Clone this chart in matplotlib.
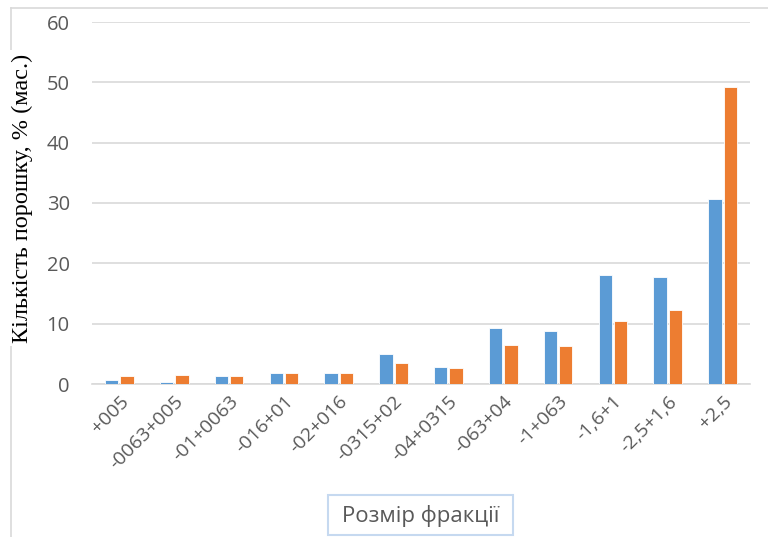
import matplotlib
matplotlib.use("Agg")
import matplotlib.pyplot as plt
from matplotlib.patches import Rectangle
from matplotlib.lines import Line2D
import numpy as np

categories = ["+005", "-0063+005", "-01+0063", "-016+01", "-02+016", "-0315+02",
              "-04+0315", "-063+04", "-1+063", "-1,6+1", "-2,5+1,6", "+2,5"]
series_blue = [0.7, 0.3, 1.3, 1.8, 1.8, 5.0, 2.8, 9.3, 8.8, 18.0, 17.7, 30.7]
series_orange = [1.3, 1.5, 1.3, 1.8, 1.8, 3.5, 2.6, 6.5, 6.3, 10.5, 12.2, 49.2]
y_ticks = [0, 10, 20, 30, 40, 50, 60]

W, H = 768, 537
fig = plt.figure(figsize=(W / 100, H / 100), dpi=100)
fig.patch.set_facecolor("white")

# chart-area frame (top and left edges)
fig.add_artist(Line2D([11 / W, 1.0], [1 - 8 / H, 1 - 8 / H], color="#d9d9d9", lw=1.2))
fig.add_artist(Line2D([11 / W, 11 / W], [0.0, 1 - 8 / H], color="#d9d9d9", lw=1.2))

ax = fig.add_axes([92 / W, 1 - 384 / H, (750 - 92) / W, (384 - 22) / H])
x = np.arange(len(categories))
bw = 0.245
gap = 0.035
ax.bar(x - (bw + gap) / 2, series_blue, width=bw, color="#5b9bd5",
       edgecolor="white", linewidth=0.6, zorder=3)
ax.bar(x + (bw + gap) / 2, series_orange, width=bw, color="#ed7d31",
       edgecolor="white", linewidth=0.6, zorder=3)

ax.set_xlim(-0.5, len(categories) - 0.5)
ax.set_ylim(0, 60)
ax.set_yticks(y_ticks)
ax.set_yticklabels([str(v) for v in y_ticks], fontsize=14.5, color="#595959",
                   family="Open Sans")
ax.yaxis.grid(True, color="#d9d9d9", lw=1.2, zorder=0)
ax.set_axisbelow(True)
for s in ["top", "right", "left"]:
    ax.spines[s].set_visible(False)
ax.spines["bottom"].set_color("#d9d9d9")
ax.spines["bottom"].set_linewidth(1.2)
ax.tick_params(axis="both", length=0)
ax.tick_params(axis="y", pad=16)
ax.set_xticks(x)
ax.set_xticklabels(categories, rotation=45, ha="right", rotation_mode="anchor",
                   fontsize=14, color="#595959", family="Open Sans")
ax.tick_params(axis="x", pad=6)

# y-axis title
fig.text(22 / W, 1 - 198 / H, "Кількість порошку, % (мас.)", rotation=90,
         ha="center", va="center", fontsize=17.5, family="Liberation Serif",
         color="black",
         bbox=dict(boxstyle="square,pad=0.15", fc="white", ec="none"))

# x-axis title in a framed box
box = Rectangle((328 / W, 1 - 535 / H), (513 - 328) / W, (535 - 495) / H,
                transform=fig.transFigure, fc="white", ec="#c6d9f0", lw=1.5)
fig.add_artist(box)
fig.text((328 + 513) / 2 / W, 1 - 516 / H, "Розмір фракції", ha="center",
         va="center", fontsize=16, color="#595959", family="Open Sans")

fig.savefig("out.png", dpi=100, facecolor="white")
